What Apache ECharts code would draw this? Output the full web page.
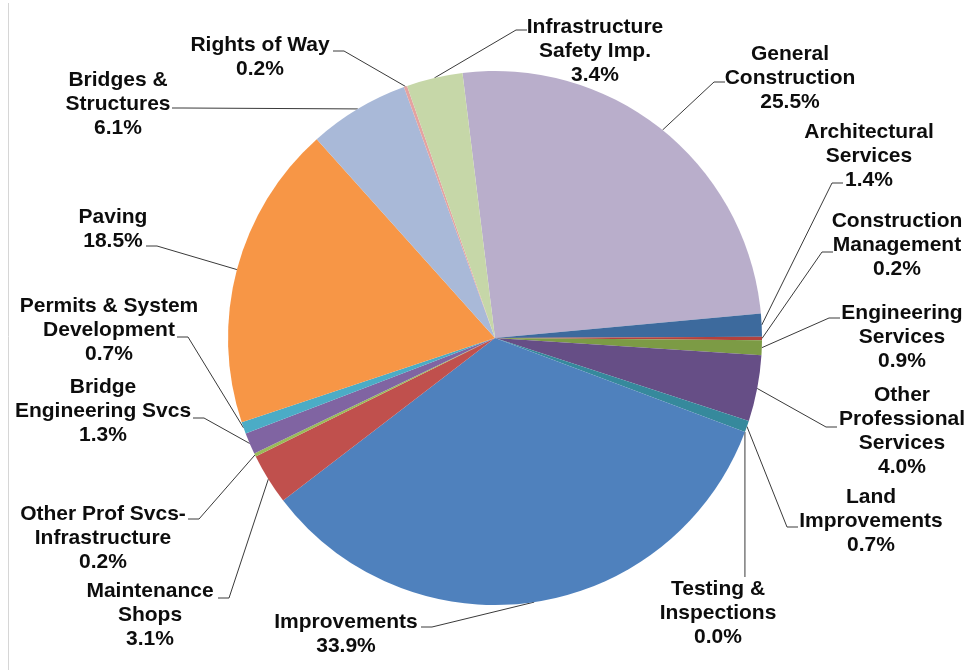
<!DOCTYPE html>
<html>
<head>
<meta charset="utf-8">
<script src="https://cdn.jsdelivr.net/npm/echarts@6/dist/echarts.min.js"></script>
<style>
  html, body { margin: 0; padding: 0; background: #fff; }
  #chart { width: 969px; height: 670px; }
</style>
</head>
<body>
<div id="chart"></div>
<script>
// Categories in clockwise order (label text as wrapped in the chart)
const categories = [
  'General\nConstruction',
  'Architectural\nServices',
  'Construction\nManagement',
  'Engineering\nServices',
  'Other\nProfessional\nServices',
  'Land\nImprovements',
  'Testing &\nInspections',
  'Improvements',
  'Maintenance\nShops',
  'Other Prof Svcs-\nInfrastructure',
  'Bridge\nEngineering Svcs',
  'Permits & System\nDevelopment',
  'Paving',
  'Bridges &\nStructures',
  'Rights of Way',
  'Infrastructure\nSafety Imp.'
];
// Share of total, percent
const values = [25.5, 1.4, 0.2, 0.9, 4.0, 0.7, 0.0, 33.9, 3.1, 0.2, 1.3, 0.7, 18.5, 6.1, 0.2, 3.4];

const colors = [
  '#B9AECB', '#3D6A9D', '#B2423E', '#7C9B45', '#664E86', '#36899C', '#3A8FB0',
  '#4F81BD', '#C0504D', '#9BBB59', '#8064A2', '#4BACC6', '#F79646',
  '#A9B9D8', '#E4A3A1', '#C6D7A8'
];

// Label layout: label centre [x, y] and leader-line end [x, y]
const labelCenter = [
  [790, 78], [869, 156], [897, 245], [902, 337], [902, 431], [871, 521], [718, 613],
  [346, 634], [150, 615], [103, 538], [103, 411], [109, 330], [113, 229],
  [118, 104], [260, 57], [595, 51]
];
const lineEnd = [
  [725, 82], [843, 183], [833, 252], [840, 318], [837, 427], [798, 527], [null, 577],
  [421, 627], [218, 598], [188, 519], [193, 418], [177, 337], [146, 246],
  [172, 108], [333, 51], [527, 30]
];

const chart = echarts.init(document.getElementById('chart'), null, { renderer: 'canvas' });

const data = categories.map((c, i) => ({
  name: c,
  value: values[i],
  itemStyle: { color: colors[i] }
}));

chart.setOption({
  backgroundColor: '#ffffff',
  animation: false,
  graphic: [{
    type: 'line',
    shape: { x1: 8.5, y1: 3, x2: 8.5, y2: 670 },
    style: { stroke: '#d6d6d6', lineWidth: 1 }
  }],
  series: [{
    type: 'pie',
    center: [495, 338],
    radius: 267,
    startAngle: 97,
    clockwise: true,
    avoidLabelOverlap: false,
    data: data,
    itemStyle: { borderWidth: 0 },
    label: {
      show: true,
      position: 'outside',
      formatter: p => p.name + '\n' + p.value.toFixed(1) + '%',
      fontFamily: '"Liberation Sans", Arial, sans-serif',
      fontWeight: 'bold',
      fontSize: 21,
      lineHeight: 24,
      color: '#0d0d0d',
      align: 'center'
    },
    labelLine: {
      show: true,
      length: 10,
      length2: 10,
      lineStyle: { color: '#3a3a3a', width: 1 }
    },
    labelLayout: function (params) {
      const i = params.dataIndex;
      const c = labelCenter[i];
      const e = lineEnd[i];
      const pts = params.labelLinePoints;
      const start = pts ? pts[0] : [c[0], c[1]];
      let linePts;
      if (e[0] === null) {
        linePts = [start, [start[0], e[1]]];
      } else {
        const elbowX = e[0] < c[0] ? e[0] - 11 : e[0] + 11;
        linePts = [start, [elbowX, e[1]], [e[0], e[1]]];
      }
      return {
        x: c[0],
        y: c[1],
        align: 'center',
        verticalAlign: 'middle',
        hideOverlap: false,
        labelLinePoints: linePts
      };
    }
  }]
});
</script>
</body>
</html>
